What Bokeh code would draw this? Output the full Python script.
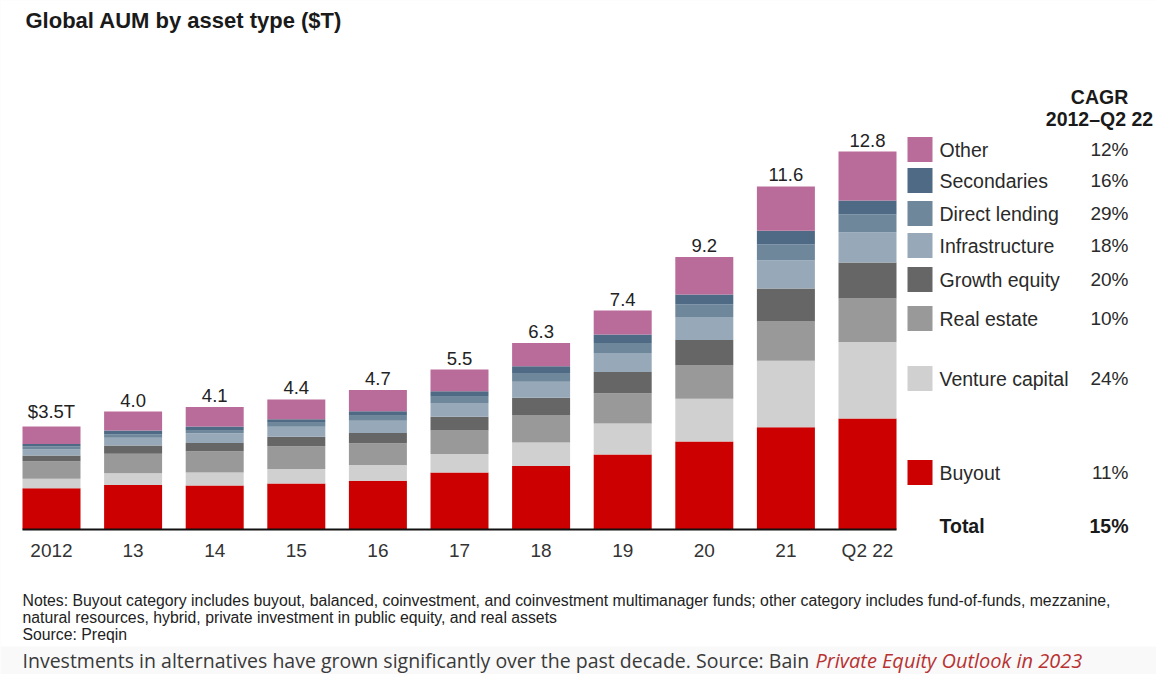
from bokeh.plotting import figure
from bokeh.models import Range1d, ColumnDataSource
from bokeh.core.properties import value
from bokeh.embed import file_html
from bokeh.resources import INLINE

# ---------------- data ----------------
categories = ["2012", "13", "14", "15", "16", "17", "18", "19", "20", "21", "Q2 22"]
total_labels = ["$3.5T", "4.0", "4.1", "4.4", "4.7", "5.5", "6.3", "7.4", "9.2", "11.6", "12.8"]

buyout = [1.40, 1.51, 1.49, 1.56, 1.65, 1.93, 2.15, 2.54, 2.98, 3.47, 3.76]
venture_capital = [0.32, 0.40, 0.44, 0.49, 0.54, 0.63, 0.80, 1.05, 1.45, 2.25, 2.60]
real_estate = [0.59, 0.66, 0.72, 0.77, 0.73, 0.80, 0.93, 1.03, 1.13, 1.33, 1.47]
growth_equity = [0.20, 0.28, 0.28, 0.32, 0.35, 0.46, 0.59, 0.72, 0.86, 1.12, 1.22]
infrastructure = [0.20, 0.26, 0.33, 0.34, 0.42, 0.47, 0.54, 0.64, 0.78, 0.96, 1.03]
direct_lending = [0.11, 0.11, 0.09, 0.14, 0.17, 0.21, 0.27, 0.34, 0.43, 0.53, 0.60]
secondaries = [0.08, 0.14, 0.14, 0.12, 0.15, 0.19, 0.25, 0.29, 0.34, 0.47, 0.47]
other = [0.59, 0.64, 0.66, 0.67, 0.72, 0.73, 0.79, 0.81, 1.27, 1.50, 1.66]

series_keys = ["buyout", "venture", "real_estate", "growth", "infra", "direct", "secondaries", "other"]
series_names = ["Buyout", "Venture capital", "Real estate", "Growth equity",
                "Infrastructure", "Direct lending", "Secondaries", "Other"]
series_cagr = ["11%", "24%", "10%", "20%", "18%", "29%", "16%", "12%"]
total_cagr = "15%"

colors = ["#cc0000", "#d0d0d0", "#999999", "#666666", "#97a9b8", "#6f879b", "#4e6a85", "#b96b99"]

# ---------------- layout helpers (picture pixels -> data) ----------------
W, H = 1156, 674
STEP = 81.6          # px between bar centres
FIRST = 51.0         # x of first bar centre
BASE = 529.0         # y of baseline
PPT = 29.5           # px per $T
BAR_W = 58.0 / STEP


def px(xp):
    return (xp - FIRST) / STEP


def py(yp):
    return (BASE - yp) / PPT


p = figure(width=W, height=H, output_backend="svg", toolbar_location=None,
           x_range=Range1d(px(0), px(W)), y_range=Range1d(py(H), py(0)),
           x_axis_location=None, y_axis_location=None, min_border=0,
           background_fill_color="#f9f9f9", border_fill_color="#f9f9f9")
p.grid.visible = False
p.outline_line_color = None

# white picture area
p.quad(left=[px(0)], right=[px(W)], top=[py(0)], bottom=[py(646)],
       fill_color="white", line_color=None)

xs = list(range(len(categories)))
data = dict(x=xs, buyout=buyout, venture=venture_capital, real_estate=real_estate,
            growth=growth_equity, infra=infrastructure, direct=direct_lending,
            secondaries=secondaries, other=other)
src = ColumnDataSource(data)
p.vbar_stack(series_keys, x="x", width=BAR_W, color=colors, line_width=0, source=src)

totals = [sum(v) for v in zip(buyout, venture_capital, real_estate, growth_equity,
                                infrastructure, direct_lending, secondaries, other)]

FONT = value("Liberation Sans")
p.text(x=xs, y=totals, text=total_labels, text_font=FONT, text_font_size=value("18.5px"),
       text_align="center", text_baseline="bottom", y_offset=-5, text_color="#222222")

# baseline axis
p.segment(x0=[-BAR_W / 2], x1=[len(categories) - 1 + BAR_W / 2], y0=[0], y1=[0],
          line_color="#111111", line_width=2)

# category labels
p.text(x=xs, y=[py(550)] * len(xs), text=categories, text_font=FONT,
       text_font_size=value("19px"), text_align="center", text_baseline="middle",
       text_color="#333333")

# title
p.text(x=[px(25)], y=[py(20)], text=["Global AUM by asset type ($T)"], text_font=FONT,
       text_font_size=value("22px"), text_font_style="bold", text_align="left",
       text_baseline="middle", text_color="#1a1a1a")

# CAGR header
p.text(x=[px(1099), px(1099)], y=[py(96), py(118)], text=["CAGR", "2012\u2013Q2 22"],
       text_font=FONT, text_font_size=value("19.5px"), text_font_style="bold",
       text_align="center", text_baseline="middle", text_color="#1a1a1a")

# legend rows (bottom->top order matches series)
legend_row_y = [472, 378, 318, 279, 245, 213, 180, 149]
SW = 12.5
p.quad(left=[px(907)] * 8, right=[px(932)] * 8,
       top=[py(y - SW) for y in legend_row_y], bottom=[py(y + SW) for y in legend_row_y],
       fill_color=colors, line_color=None)
p.text(x=[px(939)] * 8, y=[py(y) for y in legend_row_y], text=series_names, text_font=FONT,
       text_font_size=value("19.5px"), text_align="left", text_baseline="middle",
       text_color="#2a2a2a")
p.text(x=[px(1128)] * 8, y=[py(y) for y in legend_row_y], text=series_cagr, text_font=FONT,
       text_font_size=value("19px"), text_align="right", text_baseline="middle",
       text_color="#2a2a2a")
p.text(x=[px(939), px(1128)], y=[py(525)] * 2, text=["Total", total_cagr], text_font=FONT,
       text_font_size=value("19.5px"), text_font_style="bold",
       text_align=["left", "right"], text_baseline="middle", text_color="#1a1a1a")

# notes
notes = ["Notes: Buyout category includes buyout, balanced, coinvestment, and coinvestment multimanager funds; other category includes fund-of-funds, mezzanine,",
         "natural resources, hybrid, private investment in public equity, and real assets",
         "Source: Preqin"]
p.text(x=[px(22)] * 3, y=[py(600), py(617), py(634)], text=notes, text_font=FONT,
       text_font_size=value("15.8px"), text_align="left", text_baseline="middle",
       text_color="#222222")

# caption
p.text(x=[px(22)], y=[py(660)],
       text=["Investments in alternatives have grown significantly over the past decade. Source: Bain"],
       text_font=value("Open Sans"), text_font_size=value("19.5px"), text_align="left",
       text_baseline="middle", text_color="#3a3a3a")
p.text(x=[px(815)], y=[py(660)], text=["Private Equity Outlook in 2023"],
       text_font=value("Open Sans"), text_font_size=value("20px"), text_font_style="italic",
       text_align="left", text_baseline="middle", text_color="#b83232")

open("out.html", "w").write(file_html(p, INLINE))
